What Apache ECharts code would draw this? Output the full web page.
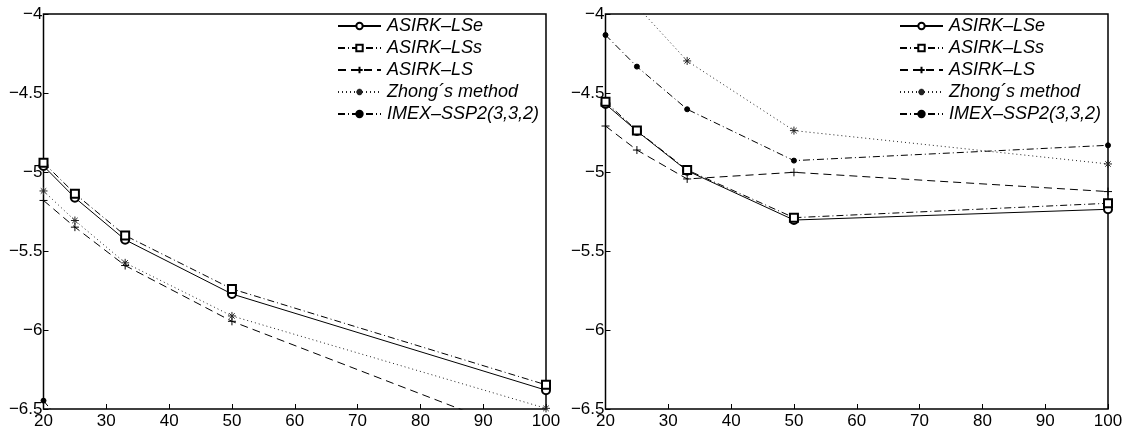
<!DOCTYPE html>
<html>
<head>
<meta charset="utf-8">
<script src="https://cdn.jsdelivr.net/npm/echarts@6/dist/echarts.min.js"></script>
<style>
html,body{margin:0;padding:0;background:#fff;}
#chart{width:1127px;height:436px;}
</style>
</head>
<body>
<div id="chart"></div>
<script>
// ---- data ----
const xValues = [20, 25, 33, 50, 100];
const seriesNames = ['ASIRK–LSe', 'ASIRK–LSs', 'ASIRK–LS', 'Zhong´s method', 'IMEX–SSP2(3,3,2)'];

const leftLSe   = [-4.962, -5.163, -5.429, -5.772, -6.381];
const leftLSs   = [-4.941, -5.137, -5.402, -5.740, -6.347];
const leftLS    = [-5.180, -5.349, -5.592, -5.945, -6.710];
const leftZhong = [-5.120, -5.307, -5.575, -5.911, -6.496];
const leftIMEX  = [-6.447, -6.690, -6.950, -7.300, -7.900];

const rightLSe   = [-4.570, -4.741, -4.992, -5.304, -5.236];
const rightLSs   = [-4.555, -4.738, -4.987, -5.289, -5.198];
const rightLS    = [-4.709, -4.861, -5.044, -5.002, -5.124];
const rightZhong = [-3.700, -3.950, -4.297, -4.738, -4.949];
const rightIMEX  = [-4.133, -4.333, -4.603, -4.928, -4.831];

const xTicks = [20, 30, 40, 50, 60, 70, 80, 90, 100];
const yTicks = [-4, -4.5, -5, -5.5, -6, -6.5];

// ---- styles ----
const FONT = 'Liberation Sans';
const plusPath = 'path://M0,5 L10,5 M5,0 L5,10';
const starPath = 'path://M5,0 L5,10 M0,5 L10,5 M1.6,1.6 L8.4,8.4 M8.4,1.6 L1.6,8.4';

const styles = [
  {symbol: 'emptyCircle', symbolSize: 8, line: 'solid', color: '#000'},
  {symbol: 'emptyRect', symbolSize: 8, line: [7, 3, 1, 3], color: '#000'},
  {symbol: plusPath, symbolSize: 8, line: [8, 5], color: '#000'},
  {symbol: starPath, symbolSize: 8, line: [1, 3], color: '#222'},
  {symbol: 'circle', symbolSize: 5, line: [7, 3, 1, 3], color: '#000'}
];

function pairs(vals) { return xValues.map((x, i) => [x, vals[i]]); }

function makeSeries(name, vals, st, gi) {
  return {
    type: 'line', name: name, data: pairs(vals),
    xAxisIndex: gi, yAxisIndex: gi,
    symbol: st.symbol, symbolSize: st.symbolSize,
    showAllSymbol: true, clip: true,
    lineStyle: {color: st.color, width: 1, type: st.line},
    itemStyle: {color: st.color, borderColor: st.color, borderWidth: 1},
    emphasis: {disabled: true}
  };
}

const leftData = [leftLSe, leftLSs, leftLS, leftZhong, leftIMEX];
const rightData = [rightLSe, rightLSs, rightLS, rightZhong, rightIMEX];

const series = [];
leftData.forEach((d, i) => series.push(makeSeries(seriesNames[i], d, styles[i], 0)));
rightData.forEach((d, i) => series.push(makeSeries(seriesNames[i], d, styles[i], 1)));

function xAxisDef(gi) {
  return {
    type: 'value', gridIndex: gi, min: 20, max: 100, interval: 10,
    axisLine: {show: false},
    axisTick: {show: true, inside: true, length: 5, lineStyle: {color: '#000', width: 1}},
    axisLabel: {color: '#000', fontFamily: FONT, fontSize: 17, margin: 4},
    splitLine: {show: false}
  };
}
function yAxisDef(gi) {
  return {
    type: 'value', gridIndex: gi, min: -6.5, max: -4, interval: 0.5,
    axisLine: {show: false},
    axisTick: {show: true, inside: true, length: 5, lineStyle: {color: '#000', width: 1}},
    axisLabel: {color: '#000', fontFamily: FONT, fontSize: 17, margin: 1,
      formatter: v => String(v).replace('-', '−')},
    splitLine: {show: false}
  };
}

function legendDef(left) {
  return {
    left: left, top: 16, orient: 'vertical', padding: 0,
    itemWidth: 43, itemHeight: 8, itemGap: 2,
    selectedMode: false,
    data: seriesNames,
    textStyle: {fontFamily: FONT, fontSize: 18, fontStyle: 'italic', color: '#000', lineHeight: 20, padding: [0, 0, 0, 1]}
  };
}

const option = {
  animation: false,
  backgroundColor: '#fff',
  grid: [
    {left: 43.5, top: 14, width: 502.5, height: 395, show: true, borderColor: '#000', borderWidth: 1.5, backgroundColor: 'transparent'},
    {left: 605.5, top: 14, width: 502.5, height: 395, show: true, borderColor: '#000', borderWidth: 1.5, backgroundColor: 'transparent'}
  ],
  xAxis: [xAxisDef(0), xAxisDef(1)],
  yAxis: [yAxisDef(0), yAxisDef(1)],
  legend: [legendDef(337), legendDef(899)],
  series: series
};

const chart = echarts.init(document.getElementById('chart'), null, {renderer: 'canvas'});
chart.setOption(option);
</script>
</body>
</html>
